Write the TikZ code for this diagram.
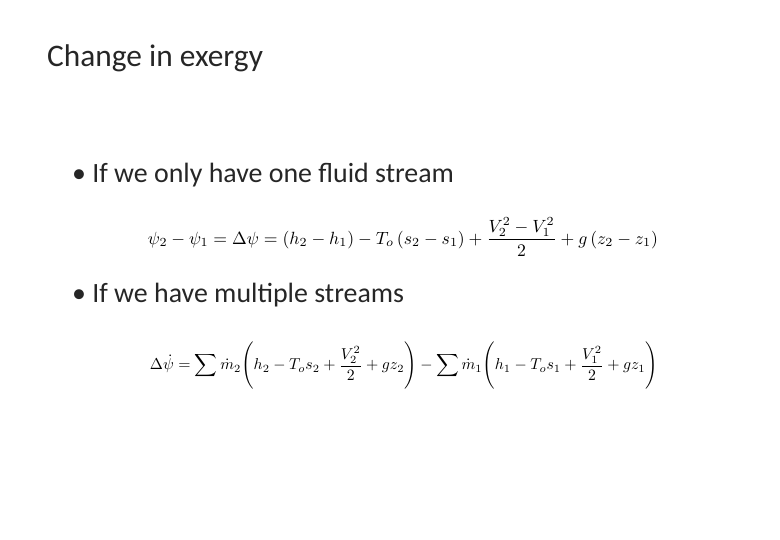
\documentclass[tikz,border=0pt]{standalone}
\usepackage{fontspec}
\usepackage{amsmath}
\setmainfont{Carlito}
\begin{document}
\begin{tikzpicture}[x=1bp,y=-1bp,
  title/.style={anchor=base west,inner sep=0pt,font=\fontsize{31.5}{36}\selectfont,text=black!85},
  bullet/.style={anchor=base west,inner sep=0pt,font=\fontsize{28}{33}\selectfont,text=black!85},
  eq/.style={anchor=center,inner sep=0pt}]
\useasboundingbox (0,0) rectangle (780,540);
\node[title] (t) at (47,67) {Change in exergy};
\node[bullet] (b1) at (72,183) {\textbullet\ If we only have one fluid stream};
\node[bullet] (b2) at (72,303) {\textbullet\ If we have multiple streams};
\node[eq] (e1) at (403,237) {\resizebox{510bp}{!}{$\psi_2-\psi_1=\Delta\psi=\left(h_2-h_1\right)-T_o\left(s_2-s_1\right)+\dfrac{V_2^2-V_1^2}{2}+g\left(z_2-z_1\right)$}};
\node[eq] (e2) at (404,366) {\resizebox{508bp}{!}{$\displaystyle\Delta\dot\psi=\sum\dot m_2\Biggl(h_2-T_os_2+\frac{V_2^2}{2}+gz_2\Biggr)-\sum\dot m_1\Biggl(h_1-T_os_1+\frac{V_1^2}{2}+gz_1\Biggr)$}};
\end{tikzpicture}
\end{document}
